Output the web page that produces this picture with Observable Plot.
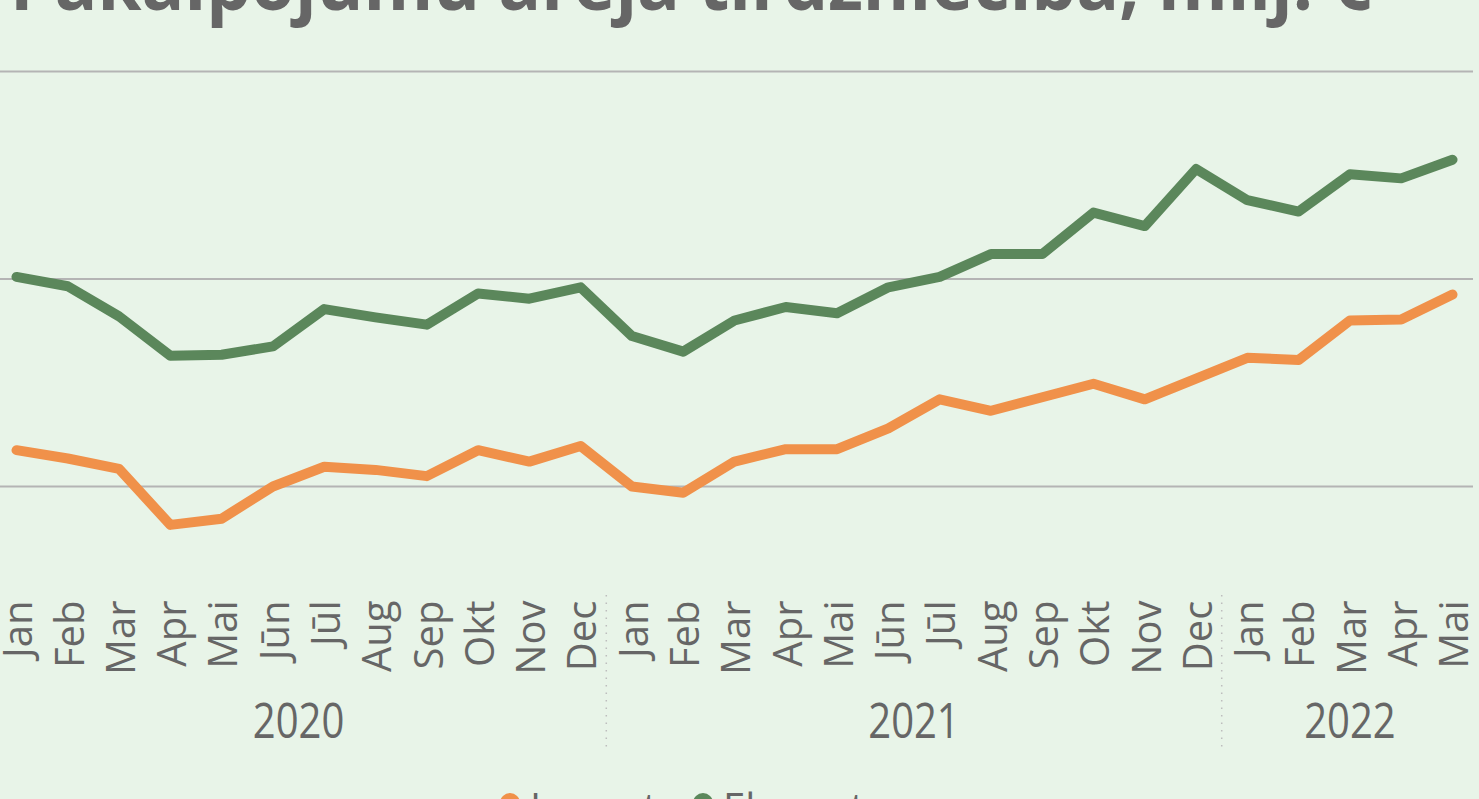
<!DOCTYPE html>
<html><head><meta charset="utf-8">
<script src="https://cdn.jsdelivr.net/npm/d3@7"></script>
<script src="https://cdn.jsdelivr.net/npm/@observablehq/plot@0.6"></script>
<style>
html,body{margin:0;padding:0;background:#E8F4E8;overflow:hidden;width:1479px;height:799px;}
#title{height:30px;position:relative;overflow:hidden;}
#title span{position:absolute;left:10px;top:-56px;font:bold 75px/1 "Open Sans",sans-serif;color:#666;white-space:nowrap;transform-origin:0 0;}
#chart svg{display:block;}
#legend{position:relative;height:14px;overflow:hidden;font:40px/1 "Open Sans",sans-serif;color:#666;}
#legend .dot{position:absolute;width:20px;height:20px;border-radius:50%;top:8px;}
#legend .lab{position:absolute;top:2px;white-space:nowrap;}
</style></head>
<body>
<div id="title"><span>Pakalpojumu ārējā tirdzniecība, milj. €</span></div>
<div id="chart"></div>
<div id="legend"></div>
<script>
const titleText = "Pakalpojumu ārējā tirdzniecība, milj. €";
const months = ["Jan","Feb","Mar","Apr","Mai","Jūn","Jūl","Aug","Sep","Okt","Nov","Dec",
                "Jan","Feb","Mar","Apr","Mai","Jūn","Jūl","Aug","Sep","Okt","Nov","Dec",
                "Jan","Feb","Mar","Apr","Mai"];
const years = ["2020","2021","2022"];
const monthsPerYear = [12,12,5];
const seriesNames = ["Imports","Eksports"];
const seriesColors = ["#F0914A","#5B875B"];
const imports = [235,227,217,163,169,200,219,216,210,235,224,239,
                 200,194,224,236,236,256,284,273,286,299,284,304,
                 324,322,360,361,385];
const exportsV = [402,393,364,326,327,335,371,363,356,386,381,392,
                  345,330,360,373,367,392,402,424,424,464,451,506,
                  476,465,501,497,515];
const gridValues = [200,400,600];

const rows = [];
months.forEach((m,i)=>{
  rows.push({i, series:seriesNames[0], value:imports[i]});
});
months.forEach((m,i)=>{
  rows.push({i, series:seriesNames[1], value:exportsV[i]});
});
const idx = months.map((m,i)=>i);
// year centers and breaks computed from month counts
const yearCenters = [], yearBreaks = [];
let start = 0;
monthsPerYear.forEach((n,k)=>{
  yearCenters.push(start + (n-1)/2);
  if (k < monthsPerYear.length-1) yearBreaks.push(start + n - 0.5);
  start += n;
});

const chart = Plot.plot({
  width:1479, height:755,
  marginLeft:0, marginRight:6, marginTop:0, marginBottom:190,
  style:{background:"transparent", fontFamily:"'Open Sans', sans-serif", color:"#666"},
  x:{type:"linear", domain:[0, months.length-1], range:[16,1452], axis:null, label:null},
  y:{domain:[200,600], range:[456,41], axis:null, label:null},
  color:{domain:seriesNames, range:seriesColors},
  marks:[
    Plot.ruleY(gridValues, {stroke:"#B4B4B4", strokeWidth:2}),
    Plot.axisX(idx, {tickFormat:i=>months[i], tickRotate:-90, tickSize:0, tickPadding:5, fontSize:40, fill:"#666", dx:3, label:null}),
    Plot.axisX(yearBreaks, {tickFormat:()=>"", tickSize:157, stroke:"#BDBDBD", strokeWidth:1.5, strokeDasharray:"1.5,6", label:null}),
    Plot.axisX(yearCenters, {tickFormat:d=>years[yearCenters.indexOf(d)], tickSize:0, tickPadding:107, fontSize:50, fill:"#666", label:null}),
    Plot.line(rows, {x:"i", y:"value", z:"series", stroke:"series", strokeWidth:10, strokeLinecap:"round", strokeLinejoin:"round"})
  ]
});
document.getElementById("chart").appendChild(chart);
// narrow the year labels horizontally
d3.select(chart).selectAll("text").filter(function(){ return years.includes(this.textContent); })
  .each(function(){
    const t = this.getAttribute("transform") || "";
    this.setAttribute("transform", t + " scale(0.8,1)");
  });
d3.select(chart).selectAll("g[aria-label='x-axis tick label'] text, g[aria-label='x-axis tick label']")
  .filter(function(){ return years.includes(this.textContent) && this.tagName==="text"; });

// title fit
const span = document.querySelector("#title span");
const w = span.getBoundingClientRect().width;
span.style.transform = `scaleX(${1362/w})`;

// legend
const legend = document.getElementById("legend");
const legendPos = [{dot:500, lab:530},{dot:693, lab:723}];
seriesNames.forEach((s,k)=>{
  const d = document.createElement("div");
  d.className = "dot"; d.style.left = legendPos[k].dot+"px"; d.style.background = seriesColors[k];
  legend.appendChild(d);
  const t = document.createElement("div");
  t.className = "lab"; t.style.left = legendPos[k].lab+"px"; t.textContent = s;
  legend.appendChild(t);
});
</script>
</body></html>
